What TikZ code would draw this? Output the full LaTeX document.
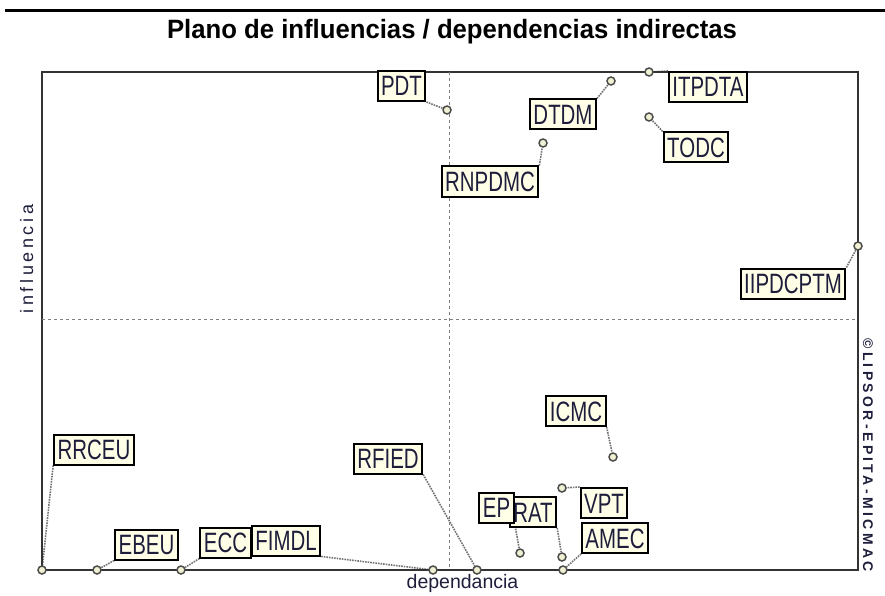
\documentclass[tikz,border=0pt]{standalone}
\usepackage{fontspec}
\usetikzlibrary{backgrounds}
\setmainfont{Liberation Sans}
\newfontfamily\lblfont[FakeStretch=0.73]{Liberation Sans}
\newfontfamily\titlefont[FakeStretch=0.97]{Liberation Sans}
\newfontfamily\axisfont[LetterSpace=20]{Liberation Sans}
\newfontfamily\creditfont[LetterSpace=24]{Liberation Sans}
\definecolor{boxfill}{RGB}{255,255,232}
\definecolor{pointfill}{RGB}{240,240,210}
\definecolor{inkblue}{RGB}{30,30,60}

\begin{document}
\begin{tikzpicture}[x=1pt,y=-1pt]
    \tikzstyle{frame}=[draw=black!80,line width=2pt]
    \tikzstyle{midline}=[draw=black!50,dashed,line width=0.8pt]
    \tikzstyle{point}=[circle,draw=black!70,fill=pointfill,line width=1.5pt,minimum size=8pt,inner sep=0pt]
    \tikzstyle{varbox}=[draw=black,line width=2pt,fill=boxfill,text=inkblue,
        font=\lblfont\fontsize{28}{30}\selectfont,inner xsep=3.5pt,inner ysep=5pt,
        text height=20pt,text depth=0pt]
    \tikzstyle{leader}=[draw=black!55,densely dotted,line width=1.6pt]
    \tikzstyle{axis text}=[text=inkblue,inner sep=0pt]

    \useasboundingbox (0,0) rectangle (885,596);

    % Title and rule above it
    \draw[line width=3pt] (5,11) -- (885,11);
    \node[anchor=base,inner sep=0pt,font=\titlefont\bfseries\fontsize{26.5}{30}\selectfont]
        (title) at (452,39) {Plano de influencias / dependencias indirectas};

    % Frame and the two mean lines
    \draw[frame] (42,72) rectangle (858,570);
    \draw[midline] (449,72) -- (449,570);
    \draw[midline] (42,319) -- (858,319);

    % Axis names and credit
    \node[axis text,anchor=base,font=\fontsize{19.5}{22}\selectfont] (xname) at (462.5,588) {dependancia};
    \node[axis text,anchor=base,rotate=90,font=\axisfont\fontsize{18}{20}\selectfont] (yname) at (33,259) {influencia};
    \node[axis text,anchor=base,rotate=-90,
        font=\creditfont\bfseries\fontsize{14}{16}\selectfont]
        (credit) at (863,455) {©LIPSOR-EPITA-MICMAC};

    % Draw the variables
    \foreach \name/\x/\y in {PDT/447/110, DTDM/611/81, ITPDTA/649/72, TODC/649/117,
        RNPDMC/543/143, IIPDCPTM/858/246, ICMC/613/457, RRCEU/42/570, EBEU/97/570,
        ECC/181/570, FIMDL/433/570, RFIED/477/570, EP/520/553, RAT/562/557,
        VPT/562/488, AMEC/563/570}
        \node[point] (p-\name) at (\x,\y) {};

    % Draw the name tags
    \foreach \name/\x/\y in {PDT/401.5/86, DTDM/563/114.5, ITPDTA/708/87, TODC/696/147.5,
        RNPDMC/490/181.5, IIPDCPTM/793/283.5, ICMC/576/411, RRCEU/94/449.5,
        EBEU/146.5/544.5, ECC/225.5/542.5, FIMDL/286/540.5, RFIED/388/458.5,
        RAT/533/512, EP/496.5/507.5, VPT/604/503, AMEC/615/538}
        \node[varbox] (l-\name) at (\x,\y) {\name};

    % Tie every tag to its variable
    \begin{pgfonlayer}{background}
    \foreach \name/\corner in {PDT/south east, DTDM/north east, ITPDTA/north west,
        TODC/north west, RNPDMC/north east, IIPDCPTM/north east, ICMC/south east,
        RRCEU/south west, EBEU/south west, ECC/south west, FIMDL/south east,
        RFIED/south east, EP/south east, RAT/south east, VPT/north west, AMEC/south west}
        \draw[leader] (l-\name.\corner) -- (p-\name);
    \end{pgfonlayer}
\end{tikzpicture}
\end{document}
